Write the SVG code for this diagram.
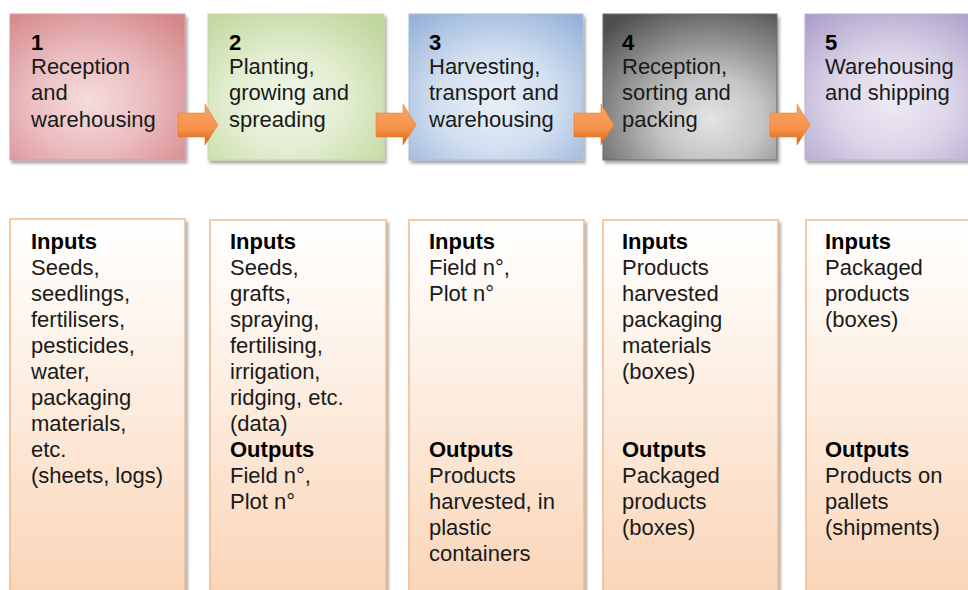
<svg xmlns="http://www.w3.org/2000/svg" width="968" height="590" viewBox="0 0 968 590">
  <defs>
    <radialGradient id="gRed" cx="45%" cy="60%" r="75%">
      <stop offset="0" stop-color="#F5DCDD"/>
      <stop offset="0.45" stop-color="#EBBDC0"/>
      <stop offset="1" stop-color="#D4878A"/>
    </radialGradient>
    <radialGradient id="gGreen" cx="45%" cy="60%" r="75%">
      <stop offset="0" stop-color="#F2F7EA"/>
      <stop offset="0.45" stop-color="#E2EDD0"/>
      <stop offset="1" stop-color="#BFD69A"/>
    </radialGradient>
    <radialGradient id="gBlue" cx="50%" cy="60%" r="75%">
      <stop offset="0" stop-color="#E8EFF8"/>
      <stop offset="0.45" stop-color="#D2DFF0"/>
      <stop offset="1" stop-color="#94B1D8"/>
    </radialGradient>
    <radialGradient id="gGray" cx="62%" cy="72%" r="85%">
      <stop offset="0" stop-color="#E4E4E4"/>
      <stop offset="0.35" stop-color="#C4C4C4"/>
      <stop offset="1" stop-color="#505050"/>
    </radialGradient>
    <radialGradient id="gPurple" cx="50%" cy="60%" r="75%">
      <stop offset="0" stop-color="#EEEAF4"/>
      <stop offset="0.45" stop-color="#DCD5E8"/>
      <stop offset="1" stop-color="#AC9FCA"/>
    </radialGradient>
    <linearGradient id="gPeach" x1="0" y1="0" x2="0" y2="1">
      <stop offset="0" stop-color="#FFFFFF"/>
      <stop offset="0.25" stop-color="#FEF6EF"/>
      <stop offset="1" stop-color="#FAD3B4"/>
    </linearGradient>
    <linearGradient id="gArrow" x1="0" y1="0" x2="0" y2="1">
      <stop offset="0" stop-color="#F9A465"/>
      <stop offset="0.6" stop-color="#F7924A"/>
      <stop offset="1" stop-color="#D2640E"/>
    </linearGradient>
    <filter id="shadow" x="-5%" y="-5%" width="115%" height="115%">
      <feDropShadow dx="2" dy="3" stdDeviation="1.5" flood-color="#000" flood-opacity="0.35"/>
    </filter>
    <path id="arrow" d="M0 9 H27 V0 L40 21 L27 41 V33 H0 Z"/>
  </defs>
  <style>
    .t { font-family: "Liberation Sans", Arial, sans-serif; font-size: 22px; fill: #1a1a1a; }
    .b { font-weight: bold; fill: #000; }
    .stage { stroke-width: 1; filter: url(#shadow); }
    .io { fill: url(#gPeach); stroke: #F2B98C; stroke-width: 1.5; filter: url(#shadow); }
    .arr { fill: url(#gArrow); stroke: #E0782A; stroke-width: 0.5; }
  </style>

  <!-- process stages -->
  <g id="stage1">
    <rect class="stage" x="10" y="14" width="175" height="146" fill="url(#gRed)" stroke="#D99A9C"/>
    <text class="t"><tspan class="b" x="31" y="50">1</tspan><tspan x="31" y="74">Reception</tspan><tspan x="31" y="100">and</tspan><tspan x="31" y="127">warehousing</tspan></text>
  </g>
  <g id="stage2">
    <rect class="stage" x="208" y="14" width="176" height="146" fill="url(#gGreen)" stroke="#C3D8A2"/>
    <text class="t"><tspan class="b" x="229" y="50">2</tspan><tspan x="229" y="74">Planting,</tspan><tspan x="229" y="100">growing and</tspan><tspan x="229" y="127">spreading</tspan></text>
  </g>
  <g id="stage3">
    <rect class="stage" x="409" y="14" width="174" height="146" fill="url(#gBlue)" stroke="#A3BCDD"/>
    <text class="t"><tspan class="b" x="429" y="50">3</tspan><tspan x="429" y="74">Harvesting,</tspan><tspan x="429" y="100">transport and</tspan><tspan x="429" y="127">warehousing</tspan></text>
  </g>
  <g id="stage4">
    <rect class="stage" x="603" y="14" width="174" height="146" fill="url(#gGray)" stroke="#6A6A6A"/>
    <text class="t"><tspan class="b" x="622" y="50">4</tspan><tspan x="622" y="74">Reception,</tspan><tspan x="622" y="100">sorting and</tspan><tspan x="622" y="127">packing</tspan></text>
  </g>
  <g id="stage5">
    <rect class="stage" x="805" y="14" width="175" height="146" fill="url(#gPurple)" stroke="#B9AED2"/>
    <text class="t"><tspan class="b" x="825" y="50">5</tspan><tspan x="825" y="74">Warehousing</tspan><tspan x="825" y="100">and shipping</tspan></text>
  </g>

  <!-- inputs / outputs panels -->
  <g id="io1">
    <rect class="io" x="10" y="219" width="175" height="390"/>
    <text class="t"><tspan class="b" x="31" y="249">Inputs</tspan><tspan x="31" y="275">Seeds,</tspan><tspan x="31" y="301">seedlings,</tspan><tspan x="31" y="327">fertilisers,</tspan><tspan x="31" y="353">pesticides,</tspan><tspan x="31" y="379">water,</tspan><tspan x="31" y="405">packaging</tspan><tspan x="31" y="431">materials,</tspan><tspan x="31" y="457">etc.</tspan><tspan x="31" y="483">(sheets, logs)</tspan></text>
  </g>
  <g id="io2">
    <rect class="io" x="210" y="220" width="176" height="390"/>
    <text class="t"><tspan class="b" x="230" y="249">Inputs</tspan><tspan x="230" y="275">Seeds,</tspan><tspan x="230" y="301">grafts,</tspan><tspan x="230" y="327">spraying,</tspan><tspan x="230" y="353">fertilising,</tspan><tspan x="230" y="379">irrigation,</tspan><tspan x="230" y="405">ridging, etc.</tspan><tspan x="230" y="431">(data)</tspan><tspan class="b" x="230" y="457">Outputs</tspan><tspan x="230" y="483">Field n°,</tspan><tspan x="230" y="509">Plot n°</tspan></text>
  </g>
  <g id="io3">
    <rect class="io" x="409" y="220" width="175" height="390"/>
    <text class="t"><tspan class="b" x="429" y="249">Inputs</tspan><tspan x="429" y="275">Field n°,</tspan><tspan x="429" y="301">Plot n°</tspan><tspan class="b" x="429" y="457">Outputs</tspan><tspan x="429" y="483">Products</tspan><tspan x="429" y="509">harvested, in</tspan><tspan x="429" y="535">plastic</tspan><tspan x="429" y="561">containers</tspan></text>
  </g>
  <g id="io4">
    <rect class="io" x="603" y="220" width="175" height="390"/>
    <text class="t"><tspan class="b" x="622" y="249">Inputs</tspan><tspan x="622" y="275">Products</tspan><tspan x="622" y="301">harvested</tspan><tspan x="622" y="327">packaging</tspan><tspan x="622" y="353">materials</tspan><tspan x="622" y="379">(boxes)</tspan><tspan class="b" x="622" y="457">Outputs</tspan><tspan x="622" y="483">Packaged</tspan><tspan x="622" y="509">products</tspan><tspan x="622" y="535">(boxes)</tspan></text>
  </g>
  <g id="io5">
    <rect class="io" x="806" y="220" width="175" height="390"/>
    <text class="t"><tspan class="b" x="825" y="249">Inputs</tspan><tspan x="825" y="275">Packaged</tspan><tspan x="825" y="301">products</tspan><tspan x="825" y="327">(boxes)</tspan><tspan class="b" x="825" y="457">Outputs</tspan><tspan x="825" y="483">Products on</tspan><tspan x="825" y="509">pallets</tspan><tspan x="825" y="535">(shipments)</tspan></text>
  </g>

  <!-- flow arrows between stages -->
  <g id="connectors">
    <use href="#arrow" class="arr" x="178" y="104"/>
    <use href="#arrow" class="arr" x="376" y="104"/>
    <use href="#arrow" class="arr" x="574" y="104"/>
    <use href="#arrow" class="arr" x="770" y="104"/>
  </g>
</svg>
